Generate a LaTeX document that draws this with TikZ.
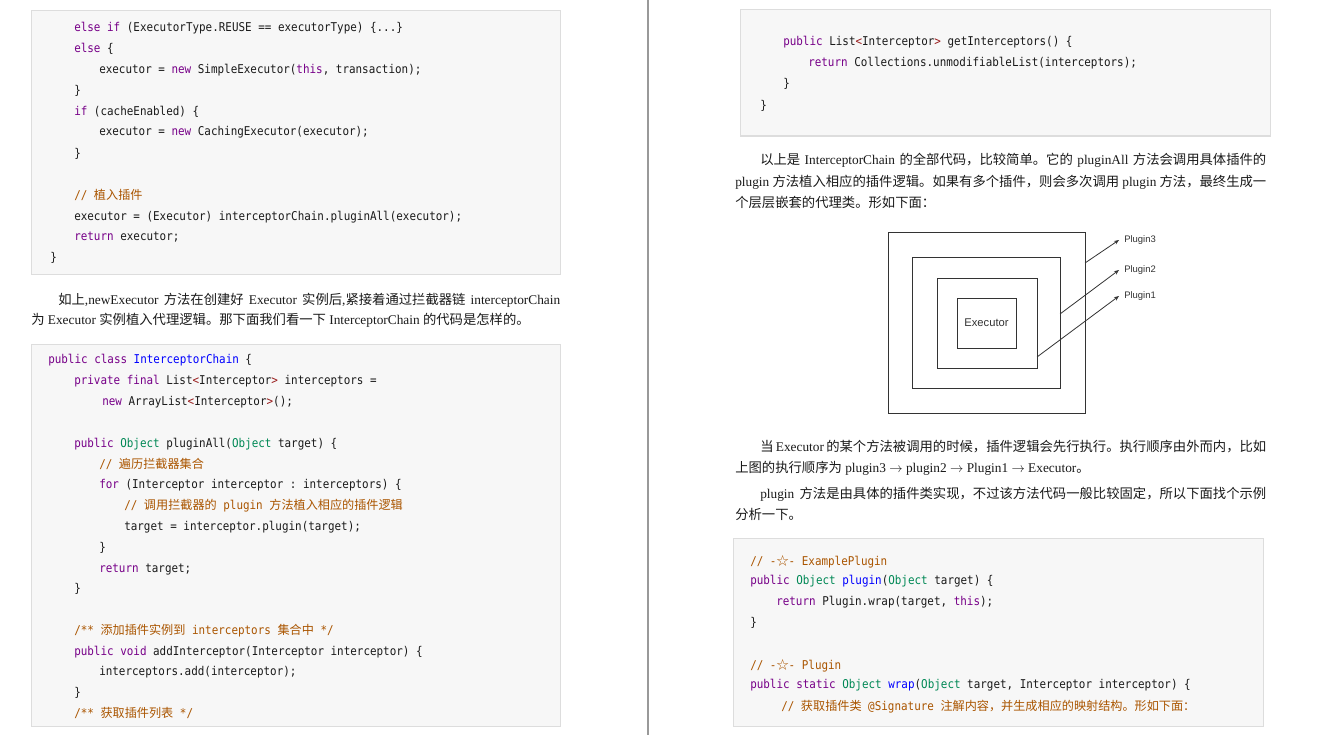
\documentclass[tikz,border=0pt]{standalone}
\usepackage{fontspec}
\setmainfont{Liberation Serif}
\setsansfont{Liberation Sans}
\setmonofont{DejaVu Sans Mono}[FakeStretch=0.9]
\newfontfamily\cjk{Noto Sans CJK SC}
\XeTeXlinebreaklocale "zh"
\XeTeXlinebreakskip=0pt plus 1pt
\usetikzlibrary{arrows.meta}
\newlength\px
\setlength\px{0.75pt}
\definecolor{codebg}{HTML}{F7F7F7}
\definecolor{codeframe}{HTML}{DDDDDD}
\definecolor{pagetext}{HTML}{1A1A1A}
\definecolor{pagerule}{HTML}{999999}
\definecolor{cmkw}{HTML}{770088}
\definecolor{cmdef}{HTML}{0000FF}
\definecolor{cmtype}{HTML}{008855}
\definecolor{cmcomm}{HTML}{AA5500}
\definecolor{cmop}{HTML}{981A1A}
\definecolor{diagline}{HTML}{333333}
\newcommand\zh[1]{{\cjk #1}}
\newcommand\kw[1]{\textcolor{cmkw}{#1}}
\newcommand\df[1]{\textcolor{cmdef}{#1}}
\newcommand\ty[1]{\textcolor{cmtype}{#1}}
\newcommand\cm[1]{\textcolor{cmcomm}{#1}}
\newcommand\op[1]{\textcolor{cmop}{#1}}
\tikzstyle{codebox} = [draw=codeframe, fill=codebg, line width=0.75pt]
\tikzstyle{codeline} = [anchor=base west, inner sep=0pt, text=pagetext,
  font=\ttfamily\fontsize{9.1pt}{11pt}\selectfont]
\tikzstyle{bodyline} = [anchor=base west, inner sep=0pt, text=pagetext,
  font=\rmfamily\fontsize{10pt}{12pt}\selectfont]
\tikzstyle{layer} = [draw=diagline, line width=0.75pt, inner sep=0pt]
\tikzstyle{pluglabel} = [anchor=west, inner sep=3.75pt, text=diagline,
  font=\sffamily\fontsize{7.1pt}{8pt}\selectfont]
\tikzstyle{wire} = [draw=diagline, line width=0.6pt, -{Stealth[length=3.75pt, width=3pt]}]

\begin{document}
\begin{tikzpicture}[x=0.75pt, y=-0.75pt]
  \fill[white] (0,0) rectangle (1318,735);
  \useasboundingbox (0,0) rectangle (1318,735);

  % Page fold
  \draw[pagerule, line width=0.9pt] (648,0) -- (648,735);

  % Code boxes
  \draw[codebox] (31,11) rectangle (560,274);
  \draw[codebox] (31,344) rectangle (560,726);
  \draw[codebox] (740,10) rectangle (1270,136);
  \draw[codebox] (733,538) rectangle (1263,726);

  % newExecutor tail
  \node[codeline] (b1a) at (74,32) {\kw{else} \kw{if} (ExecutorType.REUSE == executorType) \{...\}};
  \node[codeline] (b1b) at (74,53) {\kw{else} \{};
  \node[codeline] (b1c) at (99,74) {executor = \kw{new} SimpleExecutor(\kw{this}, transaction);};
  \node[codeline] (b1d) at (74,95) {\}};
  \node[codeline] (b1e) at (74,116) {\kw{if} (cacheEnabled) \{};
  \node[codeline] (b1f) at (99,136) {executor = \kw{new} CachingExecutor(executor);};
  \node[codeline] (b1g) at (74,157) {\}};
  \node[codeline] (b1h) at (74,199) {\cm{// \zh{植入插件}}};
  \node[codeline] (b1i) at (74,220) {executor = (Executor) interceptorChain.pluginAll(executor);};
  \node[codeline] (b1j) at (74,240) {\kw{return} executor;};
  \node[codeline] (b1k) at (50,261) {\}};

  % Paragraph after newExecutor
  \node[bodyline] (p1a) at (58,304) {\hbox to 502\px{\zh{如上},newExecutor \zh{方法在创建好} Executor \zh{实例后},\zh{紧接着通过拦截器链} interceptorChain}};
  \node[bodyline] (p1b) at (31,324) {\zh{为} Executor \zh{实例植入代理逻辑。那下面我们看一下} InterceptorChain \zh{的代码是怎样的。}};

  % InterceptorChain
  \node[codeline] (b2a) at (48,363) {\kw{public} \kw{class} \df{InterceptorChain} \{};
  \node[codeline] (b2b) at (74,384) {\kw{private} \kw{final} List\op{<}Interceptor\op{>} interceptors =};
  \node[codeline] (b2c) at (102,405) {\kw{new} ArrayList\op{<}Interceptor\op{>}();};
  \node[codeline] (b2d) at (74,447) {\kw{public} \ty{Object} pluginAll(\ty{Object} target) \{};
  \node[codeline] (b2e) at (99,468) {\cm{// \zh{遍历拦截器集合}}};
  \node[codeline] (b2f) at (99,488) {\kw{for} (Interceptor interceptor : interceptors) \{};
  \node[codeline] (b2g) at (124,509) {\cm{// \zh{调用拦截器的} plugin \zh{方法植入相应的插件逻辑}}};
  \node[codeline] (b2h) at (124,530) {target = interceptor.plugin(target);};
  \node[codeline] (b2i) at (99,551) {\}};
  \node[codeline] (b2j) at (99,572) {\kw{return} target;};
  \node[codeline] (b2k) at (74,592) {\}};
  \node[codeline] (b2l) at (74,634) {\cm{/** \zh{添加插件实例到} interceptors \zh{集合中} */}};
  \node[codeline] (b2m) at (74,655) {\kw{public} \kw{void} addInterceptor(Interceptor interceptor) \{};
  \node[codeline] (b2n) at (99,675) {interceptors.add(interceptor);};
  \node[codeline] (b2o) at (74,696) {\}};
  \node[codeline] (b2p) at (74,717) {\cm{/** \zh{获取插件列表} */}};

  % getInterceptors
  \node[codeline] (b3a) at (783,46) {\kw{public} List\op{<}Interceptor\op{>} getInterceptors() \{};
  \node[codeline] (b3b) at (808,67) {\kw{return} Collections.unmodifiableList(interceptors);};
  \node[codeline] (b3c) at (783,88) {\}};
  \node[codeline] (b3d) at (760,109) {\}};

  % Paragraph on pluginAll
  \node[bodyline] (p2a) at (760,165) {\hbox to 506\px{\zh{以上是} InterceptorChain \zh{的全部代码，比较简单。它的} pluginAll \zh{方法会调用具体插件的}}};
  \node[bodyline] (p2b) at (735,186) {\hbox to 531\px{plugin \zh{方法植入相应的插件逻辑。如果有多个插件，则会多次调用} plugin \zh{方法，最终生成一}}};
  \node[bodyline] (p2c) at (735,207) {\zh{个层层嵌套的代理类。形如下面：}};

  % Nested proxies
  \node[layer, minimum width=147.75pt, minimum height=135.75pt] (outer) at (986.5,322.5) {};
  \node[layer, minimum width=111pt, minimum height=98.25pt] (middle) at (986,322.5) {};
  \node[layer, minimum width=75pt, minimum height=67.5pt] (inner) at (987,323) {};
  \node[layer, minimum width=44.25pt, minimum height=37.5pt, text=diagline,
    font=\sffamily\fontsize{8.4pt}{10pt}\selectfont] (exec) at (986.5,323) {Executor};

  \node[pluglabel] (plug3) at (1119,240) {Plugin3};
  \node[pluglabel] (plug2) at (1119,270) {Plugin2};
  \node[pluglabel] (plug1) at (1119,296) {Plugin1};

  \coordinate (s3) at (1085,263);
  \coordinate (s2) at (1060,314);
  \coordinate (s1) at (1037,357);
  \draw[wire] (s3) -- (plug3.west);
  \draw[wire] (s2) -- (plug2.west);
  \draw[wire] (s1) -- (plug1.west);

  % Execution order
  \node[bodyline] (p3a) at (760,451) {\hbox to 506\px{\zh{当} Executor \zh{的某个方法被调用的时候，插件逻辑会先行执行。执行顺序由外而内，比如}}};
  \node[bodyline] (p3b) at (735,472) {\zh{上图的执行顺序为} plugin3 $\rightarrow$ plugin2 $\rightarrow$ Plugin1 $\rightarrow$ Executor\zh{。}};
  \node[bodyline] (p4a) at (760,498) {\hbox to 506\px{plugin \zh{方法是由具体的插件类实现，不过该方法代码一般比较固定，所以下面找个示例}}};
  \node[bodyline] (p4b) at (735,519) {\zh{分析一下。}};

  % ExamplePlugin and Plugin.wrap
  \node[codeline] (b4a) at (750,565) {\cm{// -\zh{☆}- ExamplePlugin}};
  \node[codeline] (b4b) at (750,584) {\kw{public} \ty{Object} \df{plugin}(\ty{Object} target) \{};
  \node[codeline] (b4c) at (776,605) {\kw{return} Plugin.wrap(target, \kw{this});};
  \node[codeline] (b4d) at (750,626) {\}};
  \node[codeline] (b4e) at (750,669) {\cm{// -\zh{☆}- Plugin}};
  \node[codeline] (b4f) at (750,688) {\kw{public} \kw{static} \ty{Object} \df{wrap}(\ty{Object} target, Interceptor interceptor) \{};
  \node[codeline] (b4g) at (781,710) {\cm{// \zh{获取插件类} @Signature \zh{注解内容，并生成相应的映射结构。形如下面：}}};
\end{tikzpicture}
\end{document}
